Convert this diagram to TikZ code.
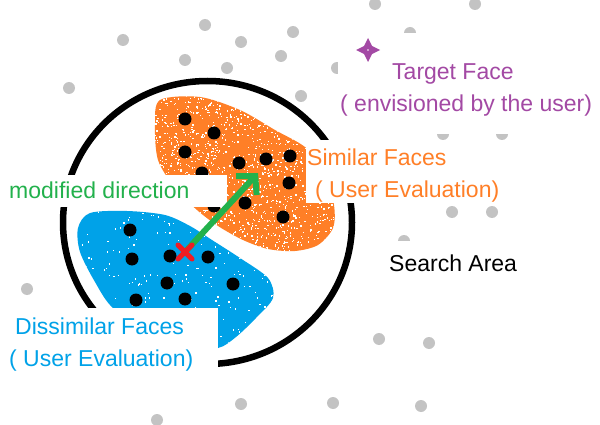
\documentclass[tikz,border=0pt]{standalone}
\usepackage{fontspec}
\setmainfont{Liberation Sans}
\usetikzlibrary{arrows.meta}

\definecolor{dotgray}{RGB}{195,195,195}
\definecolor{simorange}{RGB}{255,127,39}
\definecolor{disblue}{RGB}{0,162,232}
\definecolor{dirgreen}{RGB}{34,177,76}
\definecolor{curred}{RGB}{237,28,36}
\definecolor{targetpurple}{RGB}{163,73,164}

\begin{document}
\begin{tikzpicture}[x=1pt,y=-1pt,
  face/.style={fill=dotgray},
  rated/.style={fill=black},
  lbl/.style={anchor=base west,inner sep=0pt,align=left,font=\fontsize{23}{32}\selectfont},
  lblbg/.style={fill=white}]
  \useasboundingbox (0,0) rectangle (600,425);
  \clip (0,0) rectangle (600,425);
  % faces spread over the whole space
  \foreach \x/\y in {123/40, 205/25, 241/42, 293/32, 185/60, 227/68, 281/56,
      69/88, 301/96, 375/4, 475/4, 410/33, 337/68, 443/134, 502/134,
      452/212, 492/212, 404/241, 379/339, 429/343, 333/403, 421/406,
      241/404, 157/420, 27/289}{
     \fill[face] (\x,\y) circle (6);
  }
  % search area
  \draw[line width=6.5pt] (207.5,222.5) ellipse (144.5 and 141.5);
  % similar faces, sprayed orange
  \begin{scope}
    \clip plot[smooth cycle] coordinates {(160,100) (200,97) (240,110) (275,130)
      (305,147) (325,170) (334,205) (333,228) (318,245) (295,251) (268,249)
      (243,240) (218,226) (197,210) (175,188) (158,160) (155,125)};
    \fill[simorange] (150,90) rectangle (340,260);
    \pgfmathsetseed{7}
    \foreach \i in {1,...,1700}
      \fill[white] ({150+190*rnd},{90+170*rnd}) rectangle ++(1.3,1.3);
  \end{scope}
  % dissimilar faces, sprayed blue
  \begin{scope}
    \clip plot[smooth cycle] coordinates {(90,213) (127,211) (165,215) (190,226)
      (212,240) (240,258) (268,278) (273,298) (256,318) (236,337) (218,348)
      (190,345) (150,330) (113,308) (95,282) (80,252) (78,228)};
    \fill[disblue] (70,200) rectangle (280,350);
    \pgfmathsetseed{3}
    \foreach \i in {1,...,250}
      \fill[white] ({70+210*rnd},{200+150*rnd}) rectangle ++(1.3,1.3);
  \end{scope}
  % rated faces
  \foreach \x/\y in {185/119, 214/133, 185/152, 239/163, 266/159, 290/156,
      289/183, 245/203, 283/217, 202/173, 214/206,
      130/230, 132/259, 170/256, 208/257, 167/283, 233/284, 136/300, 185/299}{
     \fill[rated] (\x,\y) circle (6.5);
  }
  % label backgrounds
  \fill[lblbg] (338,33) rectangle (600,134);
  \fill[lblbg] (306,140) rectangle (512,203);
  \fill[lblbg] (0,175) rectangle (227,207);
  \fill[lblbg] (385,241) rectangle (525,285);
  \fill[lblbg] (0,308) rectangle (218,372);
  % labels (base is the last line)
  \node[lbl,text=targetpurple] (target) at (340,112)
    {\hspace*{52pt}Target Face\\( envisioned by the user)};
  \node[lbl,text=simorange] (similar) at (307,197)
    {Similar Faces\\\hspace*{8pt}( User Evaluation)};
  \node[lbl,text=dirgreen] (dir) at (9,199) {modified direction};
  \node[lbl] (area) at (389,271) {Search Area};
  \node[lbl,text=disblue] (dissimilar) at (9,366)
    {\hspace*{6pt}Dissimilar Faces\\( User Evaluation)};
  % target face marker
  \fill[targetpurple] (368,38) -- (372,46) -- (380,50) -- (372,54) -- (368,62)
    -- (364,54) -- (356,50) -- (364,46) -- cycle;
  \fill[white] (368,50) circle (0.8);
  % current face and new direction
  \coordinate (cur) at (185,252);
  \coordinate (next) at (258,173);
  \draw[dirgreen,line width=6pt,-{Straight Barb[length=13pt,width=28pt]}] (cur) -- (next);
  \draw[curred,line width=5pt,line cap=round] (178,245) -- (192,259) (178,259) -- (192,245);
\end{tikzpicture}
\end{document}
